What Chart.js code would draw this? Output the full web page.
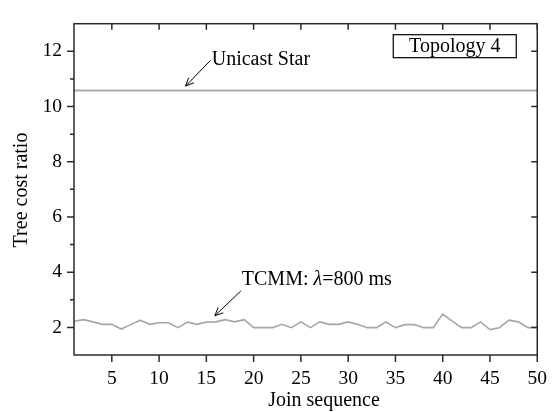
<!DOCTYPE html>
<html><head><meta charset="utf-8">
<script src="https://cdn.jsdelivr.net/npm/chart.js@4.4.1/dist/chart.umd.min.js"></script>
<style>html,body{margin:0;padding:0;background:#fff}#wrap{width:559px;height:412px}</style>
</head><body><div id="wrap"><canvas id="c" width="559" height="412"></canvas></div>
<script>
const joinSequence = [1,2,3,4,5,6,7,8,9,10,11,12,13,14,15,16,17,18,19,20,21,22,23,24,25,26,27,28,29,30,31,32,33,34,35,36,37,38,39,40,41,42,43,44,45,46,47,48,49,50];
const tcmmRatio = [2.22,2.28,2.2,2.11,2.11,1.94,2.1,2.26,2.11,2.17,2.17,1.99,2.19,2.11,2.19,2.2,2.28,2.2,2.28,1.99,1.99,1.99,2.11,1.99,2.2,1.99,2.2,2.11,2.11,2.2,2.11,1.99,1.99,2.2,1.99,2.1,2.1,1.99,1.99,2.48,2.23,1.99,1.99,2.2,1.92,1.99,2.26,2.2,1.99,2.0];
const unicastStarRange = [1, 50];
const unicastStarRatio = 10.58;
const xTickValues = [5,10,15,20,25,30,35,40,45,50];
const yTickValues = [2,4,6,8,10,12];
const yMinorTickValues = [3,5,7,9,11];

const FONT = 'Liberation Serif, Times New Roman, serif';
const AXIS = '#2a2a2a';

const annotations = {
  unicast: {text:'Unicast Star', textX:15.57, textY:11.68, tail:[15.44,11.67], tip:[12.8,10.74]},
  tcmm: {textX:18.75, textY:3.71, tail:[18.65,3.32], tip:[15.89,2.42]}
};

function arrow(ctx, x1, y1, x2, y2) {
  ctx.beginPath(); ctx.moveTo(x1, y1); ctx.lineTo(x2, y2); ctx.stroke();
  const a = Math.atan2(y2 - y1, x2 - x1), L = 9, w = 0.42;
  ctx.beginPath();
  ctx.moveTo(x2 - L * Math.cos(a - w), y2 - L * Math.sin(a - w));
  ctx.lineTo(x2, y2);
  ctx.lineTo(x2 - L * Math.cos(a + w), y2 - L * Math.sin(a + w));
  ctx.stroke();
}

const decor = {
  id: 'decor',
  afterDraw(chart) {
    const {ctx, chartArea: ca, scales: {x, y}} = chart;
    ctx.save();
    ctx.strokeStyle = AXIS; ctx.lineWidth = 1.5;
    ctx.strokeRect(ca.left, ca.top, ca.right - ca.left, ca.bottom - ca.top);
    ctx.beginPath();
    xTickValues.forEach(v => {
      const px = x.getPixelForValue(v);
      ctx.moveTo(px, ca.bottom); ctx.lineTo(px, ca.bottom + 7);
      ctx.moveTo(px, ca.top); ctx.lineTo(px, ca.top + 6);
    });
    yTickValues.forEach(v => {
      const py = y.getPixelForValue(v);
      ctx.moveTo(ca.left, py); ctx.lineTo(ca.left - 7, py);
      ctx.moveTo(ca.right, py); ctx.lineTo(ca.right - 6, py);
    });
    yMinorTickValues.forEach(v => {
      const py = y.getPixelForValue(v);
      ctx.moveTo(ca.left, py); ctx.lineTo(ca.left - 4, py);
    });
    ctx.stroke();

    // annotations
    ctx.fillStyle = '#000'; ctx.strokeStyle = '#000'; ctx.lineWidth = 1;
    ctx.font = '20px ' + FONT; ctx.textBaseline = 'middle'; ctx.textAlign = 'left';
    const u = annotations.unicast;
    ctx.fillText(u.text, x.getPixelForValue(u.textX), y.getPixelForValue(u.textY));
    arrow(ctx, x.getPixelForValue(u.tail[0]), y.getPixelForValue(u.tail[1]), x.getPixelForValue(u.tip[0]), y.getPixelForValue(u.tip[1]));
    const t = annotations.tcmm;
    let tx = x.getPixelForValue(t.textX); const ty = y.getPixelForValue(t.textY);
    const parts = [['TCMM: ', '20px '], ['\u03BB', 'italic 20px '], ['=800 ms', '20px ']];
    parts.forEach(([s, f]) => { ctx.font = f + FONT; ctx.fillText(s, tx, ty); tx += ctx.measureText(s).width; });
    arrow(ctx, x.getPixelForValue(t.tail[0]), y.getPixelForValue(t.tail[1]), x.getPixelForValue(t.tip[0]), y.getPixelForValue(t.tip[1]));

    // Topology box
    const bx = ca.right - 144, by = ca.top + 11, bw = 123, bh = 23;
    ctx.lineWidth = 1.2;
    ctx.strokeRect(bx, by, bw, bh);
    ctx.font = '20px ' + FONT; ctx.textAlign = 'center';
    ctx.fillText('Topology 4', bx + bw / 2, by + bh / 2 + 1);

    // axis titles
    ctx.textBaseline = 'alphabetic';
    ctx.fillText('Join sequence', 324, 406);
    ctx.translate(26.5, 190); ctx.rotate(-Math.PI / 2);
    ctx.fillText('Tree cost ratio', 0, 0);
    ctx.restore();
  }
};

new Chart(document.getElementById('c'), {
  type: 'line',
  data: {
    datasets: [
      {label: 'Unicast Star', data: unicastStarRange.map(v => ({x: v, y: unicastStarRatio})), borderColor: '#ababab', borderWidth: 2.2, pointRadius: 0, tension: 0},
      {label: 'TCMM', data: joinSequence.map((v, i) => ({x: v, y: tcmmRatio[i]})), borderColor: '#a6a6a6', borderWidth: 1.6, pointRadius: 0, tension: 0}
    ]
  },
  options: {
    responsive: false, animation: false, devicePixelRatio: 1,
    layout: {padding: {top: 8, right: 21, left: 0, bottom: 0}},
    plugins: {legend: {display: false}, tooltip: {enabled: false}},
    scales: {
      x: {type: 'linear', min: 1, max: 50,
        afterBuildTicks: s => { s.ticks = xTickValues.map(v => ({value: v})); },
        afterFit: s => { s.height = 57; },
        grid: {display: false, drawTicks: false}, border: {display: false},
        ticks: {font: {family: FONT, size: 19.5}, color: '#000', padding: 12, maxRotation: 0, autoSkip: false}},
      y: {type: 'linear', min: 1, max: 13,
        afterBuildTicks: s => { s.ticks = yTickValues.map(v => ({value: v})); },
        afterFit: s => { s.width = 74; },
        grid: {display: false, drawTicks: false}, border: {display: false},
        ticks: {font: {family: FONT, size: 19.5}, color: '#000', padding: 12, autoSkip: false}}
    }
  },
  plugins: [decor]
});
</script></body></html>
